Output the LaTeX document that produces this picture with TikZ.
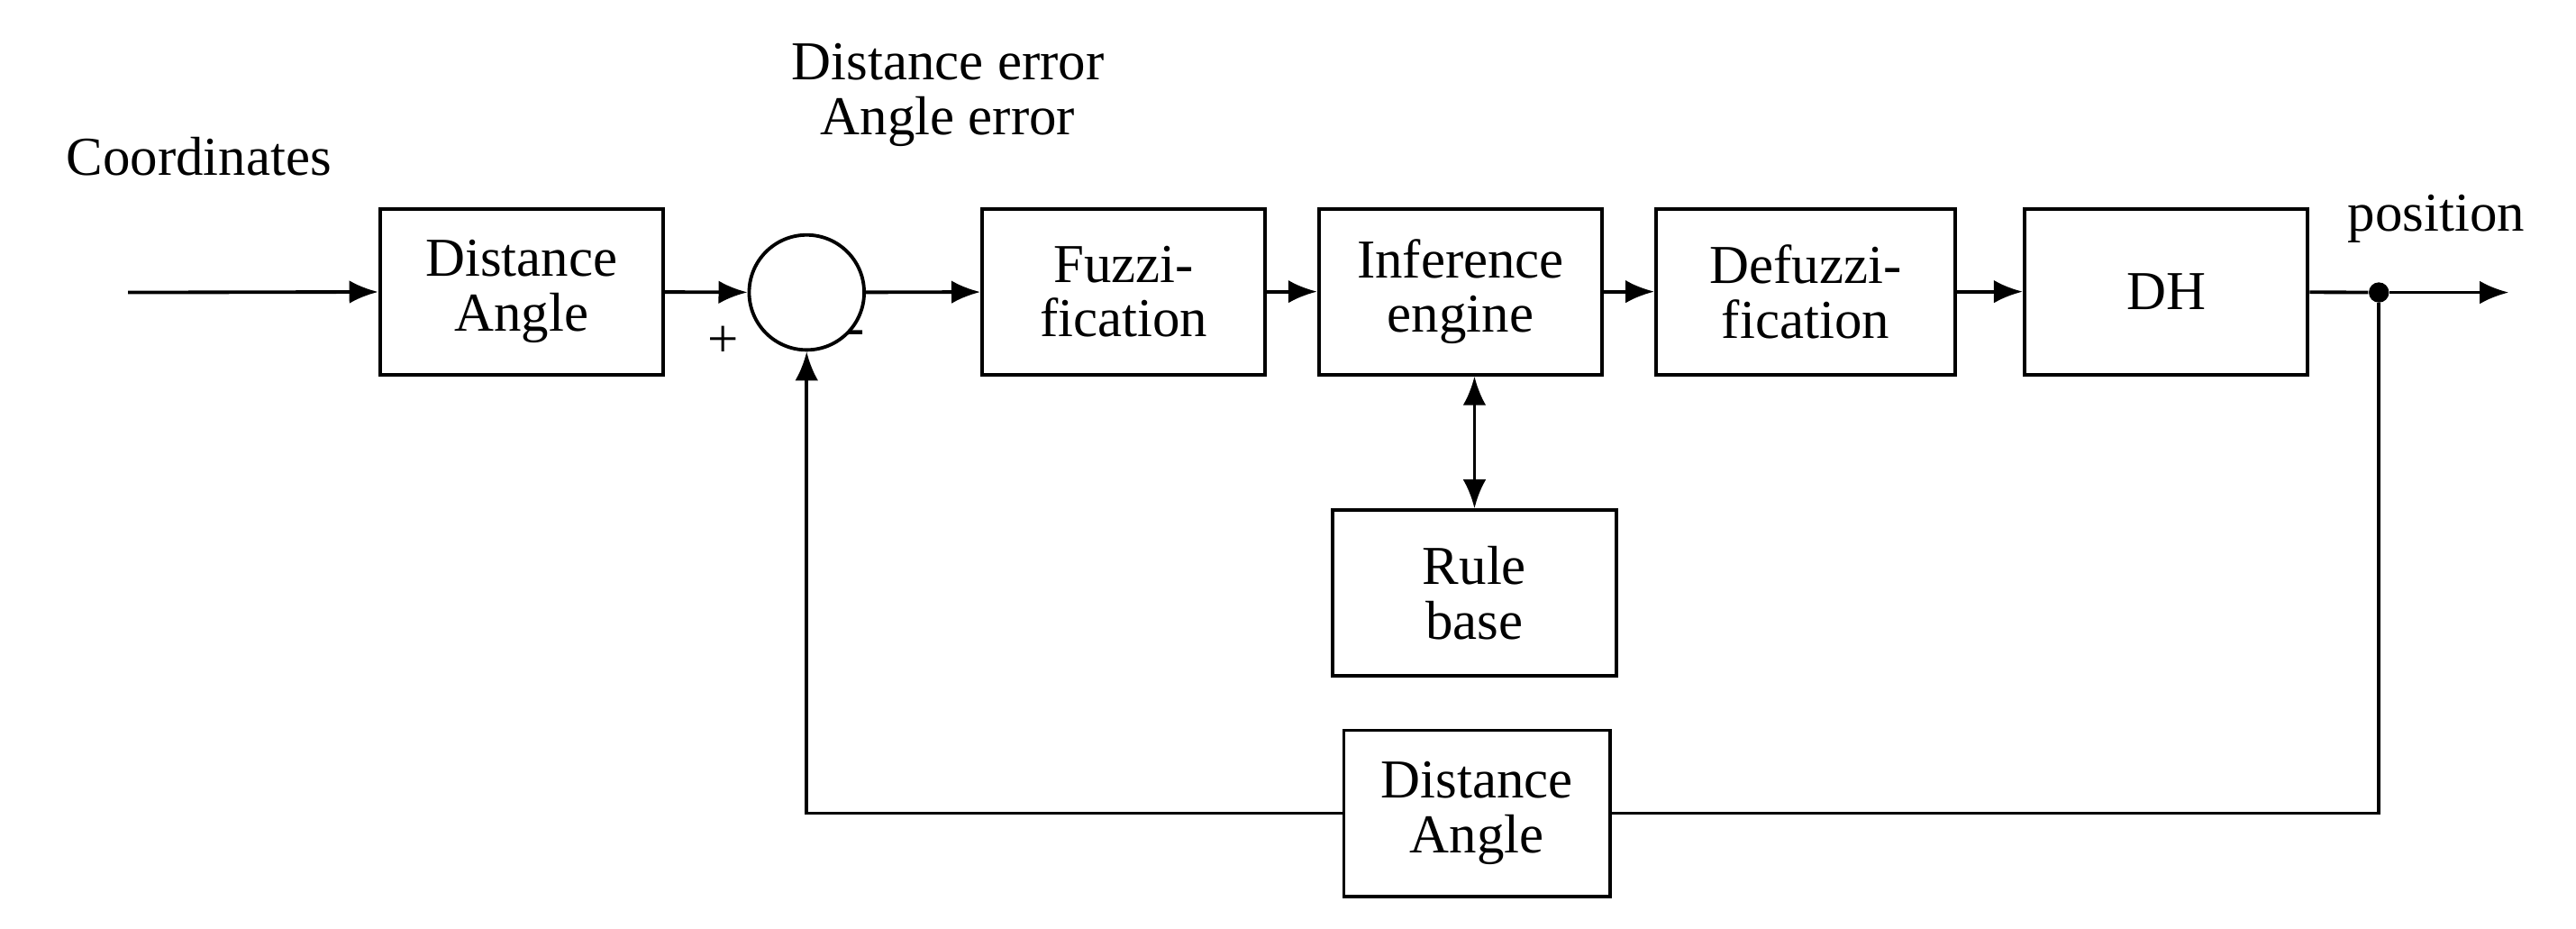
\documentclass[tikz,border=0pt]{standalone}
\usepackage{fontspec}
\setmainfont{Liberation Serif}
\usetikzlibrary{arrows.meta}
\begin{document}
\begin{tikzpicture}[x=0.02cm,y=-0.02cm,
  blk/.style={draw,line width=1.2pt,minimum width=3.45cm,minimum height=2.02cm,align=center,font=\fontsize{19}{23}\selectfont},
  lbl/.style={font=\fontsize{19}{23}\selectfont,align=center},
  arr/.style={line width=1.2pt,-{Latex[length=10pt,width=8pt]}}]
\useasboundingbox (0,0) rectangle (1568,565);
\node[lbl] (coord) at (121,95) {Coordinates};
\coordinate (in) at (78,178);
\node[blk] (b1) at (317.5,177.5) {Distance\\[-4pt]Angle};
\node[draw,circle,line width=1.2pt,minimum size=1.4cm,inner sep=0pt] (sum) at (491,178) {};
\node[lbl] at (440,208) {+};
\node[lbl] at (521,206) {-};
\node[lbl] (err) at (577,58) {Distance error\\[-4pt]Angle error};
\node[blk] (fz) at (684,177.5) {Fuzzi-\\[-4pt]fication};
\node[blk] (ie) at (889,177.5) {Inference\\[-4pt]engine};
\node[blk,minimum width=3.64cm] (df) at (1099,177.5) {Defuzzi-\\[-4pt]fication};
\node[blk] (dh) at (1318.5,177.5) {DH};
\node[blk] (rb) at (897.5,361) {Rule\\[-4pt]base};
\node[blk,minimum width=3.24cm] (fb) at (899,495) {Distance\\[-4pt]Angle};
\node[lbl] (pos) at (1483,133) {position};
\node[circle,fill,inner sep=0pt,minimum size=7pt] (dot) at (1448,178) {};
\coordinate (out) at (1527,178);
\draw[arr] (in) -- (b1);
\draw[arr] (b1) -- (sum);
\draw[arr] (sum) -- (fz);
\draw[arr] (fz) -- (ie);
\draw[arr] (ie) -- (df);
\draw[arr] (df) -- (dh);
\draw[line width=1.2pt] (dh) -- (dot);
\draw[arr] (dot) -- (out);
\draw[line width=1.2pt,{Latex[length=10pt,width=8pt]}-{Latex[length=10pt,width=8pt]}] (ie.south -| rb.north) -- (rb.north);
\draw[line width=1.2pt] (dot) |- (fb.east);
\draw[arr] (fb.west) -| (sum.south);
\end{tikzpicture}
\end{document}
